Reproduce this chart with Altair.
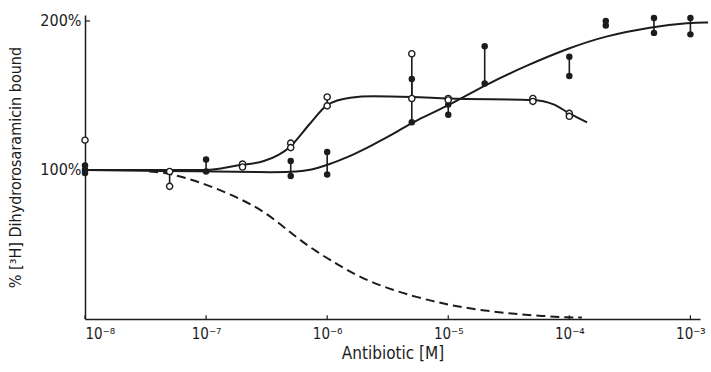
import altair as alt
import pandas as pd

# ---- data ----
open_conc = [1e-8, 5e-8, 5e-8, 2e-7, 2e-7, 5e-7, 5e-7, 1e-6, 1e-6, 5e-6, 5e-6,
             1e-5, 1e-5, 5e-5, 5e-5, 1e-4, 1e-4]
open_val = [120, 99, 89, 104, 102, 118, 115, 149, 143, 178, 148,
            148, 147, 148, 146, 138, 136]

filled_conc = [1e-8, 1e-8, 1e-8, 1e-7, 1e-7, 5e-7, 5e-7, 1e-6, 1e-6, 5e-6, 5e-6,
               1e-5, 1e-5, 2e-5, 2e-5, 1e-4, 1e-4, 2e-4, 2e-4, 5e-4, 5e-4, 1e-3, 1e-3]
filled_val = [103, 100, 98, 107, 99, 106, 96, 112, 97, 161, 132,
              144, 137, 183, 158, 176, 163, 200, 197, 202, 192, 202, 191]

open_curve_x = [1e-8, 5e-8, 1e-7, 1.8e-7, 3e-7, 5e-7, 7.2e-7, 1e-6, 1.55e-6, 2.4e-6,
                5e-6, 1e-5, 5e-5, 7.4e-5, 1e-4, 1.4e-4]
open_curve_y = [100, 100, 100, 103, 106, 116, 131, 143.5, 148.5, 149.5,
                149, 148, 147, 144, 138, 132]

filled_curve_x = [1e-8, 1e-7, 3e-7, 5e-7, 7.6e-7, 1e-6, 1.4e-6, 2.4e-6, 3.7e-6, 5e-6, 1e-5,
                  2e-5, 4.4e-5, 1e-4, 2e-4, 4.7e-4, 1e-3, 1.4e-3]
filled_curve_y = [100, 99, 98.5, 98.5, 100, 103.5, 107.5, 117, 125, 132, 143,
                  157, 170, 182, 190, 196, 199, 199]

dashed_x = [3.4e-8, 5e-8, 1e-7, 1.9e-7, 3.2e-7, 5.3e-7, 8.2e-7, 1.2e-6, 1.76e-6,
            2.9e-6, 5.5e-6, 1e-5, 1.8e-5, 3.4e-5, 6e-5, 1e-4, 1.27e-4]
dashed_y = [99, 98, 90.5, 81, 71, 56, 45, 37, 29,
            21.5, 14.5, 9.5, 6, 3.5, 2, 1, 1]

x_ticks = [1e-8, 1e-7, 1e-6, 1e-5, 1e-4, 1e-3]
y_ticks = [100, 200]

# ---- tables ----
pts = pd.concat([
    pd.DataFrame({"conc": open_conc, "value": open_val, "kind": "open"}),
    pd.DataFrame({"conc": filled_conc, "value": filled_val, "kind": "filled"}),
])
open_curve = pd.DataFrame({"conc": open_curve_x, "value": open_curve_y})
filled_curve = pd.DataFrame({"conc": filled_curve_x, "value": filled_curve_y})
dashed = pd.DataFrame({"conc": dashed_x, "value": dashed_y})
xt = pd.DataFrame({"conc": x_ticks, "value": [0] * len(x_ticks), "value2": [2.5] * len(x_ticks)})
yt = pd.DataFrame({"conc": [1e-8], "conc2": [1.1e-8], "value": [200]})

INK = "#1c1c1c"
FONT = "DejaVu Sans Condensed"
W, H = 615, 304

xs = alt.Scale(type="log", domain=[1e-8, 1.2e-3], nice=False)
ys = alt.Scale(domain=[0, 204], nice=False, zero=False)

sup = "['⁰','¹','²','³','⁴','⁵','⁶','⁷','⁸','⁹']"
xaxis = alt.Axis(
    values=x_ticks, ticks=False, grid=False,
    labelExpr="'10⁻' + " + sup + "[round(-log(datum.value)/LN10)]",
    domainColor=INK, domainWidth=1.5, labelColor=INK, labelFontSize=15,
    labelPadding=7, labelFont=FONT,
    title="Antibiotic [M]", titleFont=FONT, titleFontSize=17,
    titleFontWeight="normal", titleColor=INK, titlePadding=4,
)
yaxis = alt.Axis(
    values=y_ticks, ticks=False, grid=False,
    labelExpr="datum.value + '%'",
    domainColor=INK, domainWidth=1.5, labelColor=INK, labelFontSize=16,
    labelPadding=4, labelFont=FONT,
    title="% [³H] Dihydrorosaramicin bound", titleFont=FONT, titleFontSize=16,
    titleFontWeight="normal", titleColor=INK, titleX=-62,
)

X = alt.X("conc:Q", scale=xs, axis=xaxis)
Y = alt.Y("value:Q", scale=ys, axis=yaxis)

open_line = alt.Chart(open_curve).mark_line(
    interpolate="monotone", color=INK, strokeWidth=2, clip=False
).encode(x=X, y=Y)

filled_line = alt.Chart(filled_curve).mark_line(
    interpolate="basis", color=INK, strokeWidth=2, clip=False
).encode(x=X, y=Y)

dash_line = alt.Chart(dashed).mark_line(
    interpolate="basis", color=INK, strokeWidth=2, strokeDash=[9, 5]
).encode(x=X, y=Y)

rules = alt.Chart(pts).mark_rule(color=INK, strokeWidth=1.6).encode(
    x=X,
    y=alt.Y("min(value):Q", scale=ys, axis=yaxis),
    y2="max(value)",
    detail="kind:N",
)

xtick_layer = alt.Chart(xt).mark_rule(color=INK, strokeWidth=1.2).encode(
    x=X, y=Y, y2="value2:Q"
)
ytick_layer = alt.Chart(yt).mark_rule(color=INK, strokeWidth=1.2).encode(
    x=X, x2="conc2:Q", y=Y
)

filled_pts = alt.Chart(pts).transform_filter("datum.kind == 'filled'").mark_point(
    shape="circle", filled=True, color=INK, size=42, opacity=1
).encode(x=X, y=Y)

open_pts = alt.Chart(pts).transform_filter("datum.kind == 'open'").mark_point(
    shape="circle", filled=False, fill="white", fillOpacity=1, stroke=INK,
    strokeWidth=1.4, size=38, opacity=1
).encode(x=X, y=Y)

chart = alt.layer(
    open_line, filled_line, dash_line, rules, xtick_layer, ytick_layer,
    filled_pts, open_pts
).properties(
    width=W, height=H,
    autosize=alt.AutoSizeParams(type="none"),
    padding={"left": 85, "top": 15, "right": 11, "bottom": 53},
    background="white",
).configure_view(stroke=None)

chart.save("out.html", embed_options={"renderer": "svg", "actions": False})
